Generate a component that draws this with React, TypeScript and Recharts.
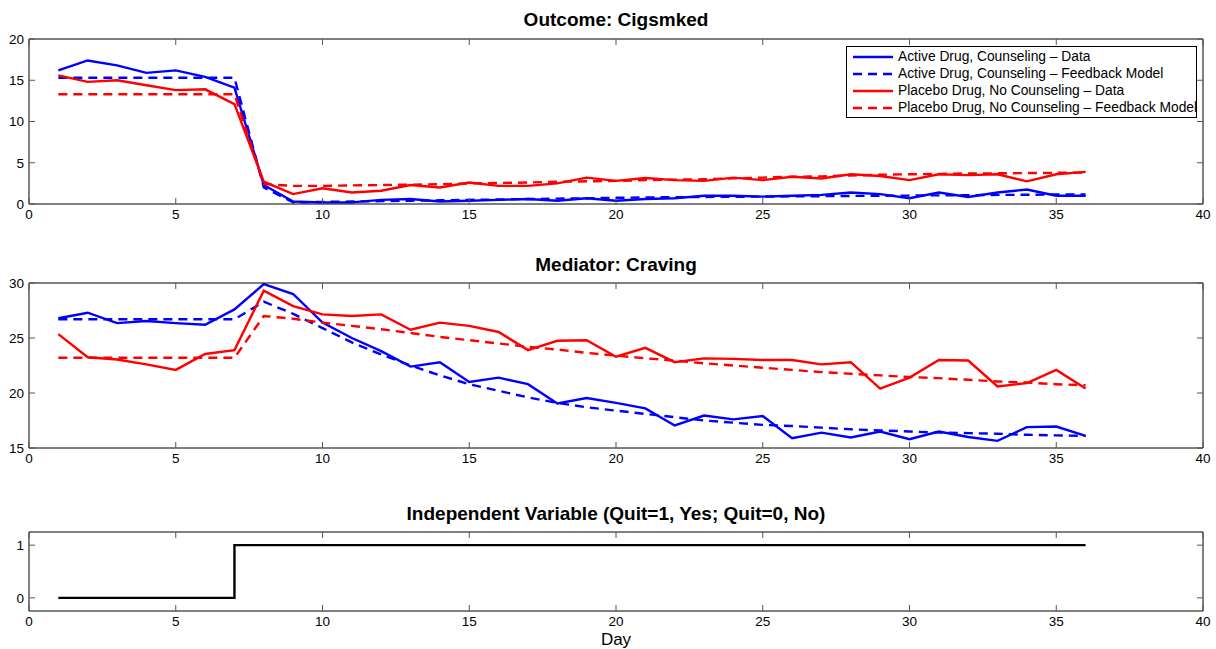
import React from 'react';
import { LineChart, Line, XAxis, YAxis, Legend } from 'recharts';

const FONT = '"Liberation Sans", Arial, Helvetica, sans-serif';
const BLUE = '#0000ff';
const RED = '#ff0000';

// day index 1..36
const days = Array.from({ length: 36 }, (_, i) => i + 1);
const xTicks = [0, 5, 10, 15, 20, 25, 30, 35, 40];

// Outcome: cigarettes smoked
const activeCig = [
  16.2, 17.4, 16.8, 15.9, 16.2, 15.4, 14.1, 2.3, 0.3, 0.2, 0.2, 0.5, 0.6, 0.3, 0.4, 0.5, 0.6, 0.4,
  0.7, 0.4, 0.6, 0.7, 1.0, 1.0, 0.9, 1.0, 1.1, 1.4, 1.2, 0.7, 1.4, 0.85, 1.4, 1.75, 1.0, 1.0,
];
const activeCigModel = [
  15.3, 15.3, 15.3, 15.3, 15.3, 15.3, 15.3, 2.0, 0.2, 0.25, 0.3, 0.35, 0.4, 0.45, 0.5, 0.55, 0.6, 0.65,
  0.7, 0.75, 0.8, 0.82, 0.85, 0.88, 0.9, 0.92, 0.95, 0.98, 1.0, 1.02, 1.05, 1.07, 1.1, 1.12, 1.15, 1.15,
];
const placeboCig = [
  15.6, 14.8, 15.0, 14.4, 13.8, 13.9, 12.1, 2.7, 1.2, 1.9, 1.4, 1.6, 2.3, 2.0, 2.6, 2.2, 2.2, 2.5,
  3.2, 2.8, 3.15, 2.9, 2.8, 3.2, 2.9, 3.3, 3.1, 3.6, 3.4, 2.9, 3.6, 3.5, 3.6, 2.75, 3.6, 3.9,
];
const placeboCigModel = [
  13.3, 13.3, 13.3, 13.3, 13.3, 13.3, 13.3, 2.4, 2.2, 2.2, 2.25, 2.3, 2.35, 2.4, 2.5, 2.55, 2.6, 2.7,
  2.75, 2.8, 2.9, 2.95, 3.0, 3.1, 3.2, 3.3, 3.35, 3.45, 3.55, 3.6, 3.65, 3.7, 3.72, 3.75, 3.78, 3.8,
];

// Mediator: craving
const activeCrave = [
  26.8, 27.3, 26.35, 26.55, 26.35, 26.2, 27.6, 29.9, 29.0, 26.4, 25.0, 23.8, 22.4, 22.8, 21.0, 21.4, 20.8, 19.05,
  19.55, 19.1, 18.6, 17.05, 17.95, 17.6, 17.9, 15.9, 16.4, 15.95, 16.5, 15.8, 16.5, 16.0, 15.65, 16.9, 16.95, 16.1,
];
const activeCraveModel = [
  26.7, 26.7, 26.7, 26.7, 26.7, 26.7, 26.7, 28.3, 27.2, 25.9, 24.6, 23.5, 22.5, 21.6, 20.8, 20.2, 19.6, 19.1,
  18.7, 18.4, 18.1, 17.8, 17.5, 17.3, 17.1, 17.0, 16.85, 16.7, 16.6, 16.5, 16.4, 16.35, 16.3, 16.2, 16.15, 16.1,
];
const placeboCrave = [
  25.35, 23.25, 23.05, 22.6, 22.1, 23.55, 23.9, 29.3, 27.9, 27.15, 27.0, 27.15, 25.75, 26.4, 26.1, 25.55, 23.9, 24.75,
  24.8, 23.3, 24.1, 22.8, 23.15, 23.1, 23.0, 23.0, 22.6, 22.8, 20.4, 21.4, 23.0, 22.95, 20.6, 20.9, 22.1, 20.4,
];
const placeboCraveModel = [
  23.2, 23.2, 23.2, 23.2, 23.2, 23.2, 23.2, 27.0, 26.75, 26.4, 26.1, 25.8, 25.45, 25.1, 24.8, 24.5, 24.2, 23.95,
  23.65, 23.4, 23.15, 22.95, 22.7, 22.5, 22.3, 22.1, 21.9, 21.75, 21.6, 21.45, 21.35, 21.2, 21.05, 20.95, 20.8, 20.7,
];

// Independent variable: quit (0 = no, 1 = yes)
const quit = [
  0, 0, 0, 0, 0, 0, 1, 1, 1, 1, 1, 1, 1, 1, 1, 1, 1, 1,
  1, 1, 1, 1, 1, 1, 1, 1, 1, 1, 1, 1, 1, 1, 1, 1, 1, 1,
];

const seriesNames = [
  'Active Drug, Counseling – Data',
  'Active Drug, Counseling – Feedback Model',
  'Placebo Drug, No Counseling – Data',
  'Placebo Drug, No Counseling – Feedback Model',
];

const cigRows = days.map((day, i) => ({
  day,
  a: activeCig[i],
  am: activeCigModel[i],
  p: placeboCig[i],
  pm: placeboCigModel[i],
}));
const craveRows = days.map((day, i) => ({
  day,
  a: activeCrave[i],
  am: activeCraveModel[i],
  p: placeboCrave[i],
  pm: placeboCraveModel[i],
}));
const quitRows = days.map((day, i) => ({ day, q: quit[i] }));

const W = 1216;
const FS = 13.5;
const TICK_COLOR = '#555';
const TL = 6; // inward tick length
const XM = 5; // x label margin
const YM = 5; // y label margin
const DASH = '9 6';
const LW = 2.4;

// matlab-ish inward ticks: draw the tick line ourselves, label outside
const bottomTick = (p: any) => (
  <g>
    <line x1={p.x} x2={p.x} y1={p.y - XM} y2={p.y - XM - TL} stroke={TICK_COLOR} />
    <text x={p.x} y={p.y} dy="0.71em" textAnchor="middle" fontSize={FS} fontFamily={FONT} fill="#000">
      {p.payload.value}
    </text>
  </g>
);
const topTick = (p: any) => (
  <line x1={p.x} x2={p.x} y1={p.y} y2={p.y + TL} stroke={TICK_COLOR} />
);
const leftTick = (p: any) => (
  <g>
    <line x1={p.x + YM} x2={p.x + YM + TL} y1={p.y} y2={p.y} stroke={TICK_COLOR} />
    <text x={p.x} y={p.y} dy="0.355em" textAnchor="end" fontSize={FS} fontFamily={FONT} fill="#000">
      {p.payload.value}
    </text>
  </g>
);
const rightTick = (p: any) => (
  <line x1={p.x} x2={p.x - TL} y1={p.y} y2={p.y} stroke={TICK_COLOR} />
);

function frame(yDomain: number[], yTicks: number[]) {
  return [
    <XAxis
      key="xb"
      xAxisId="b"
      type="number"
      dataKey="day"
      domain={[0, 40]}
      ticks={xTicks}
      interval={0}
      orientation="bottom"
      height={26}
      tickSize={0}
      tickMargin={XM}
      tickLine={false}
      tick={bottomTick}
      stroke="#000"
    />,
    <XAxis
      key="xt"
      xAxisId="t"
      type="number"
      dataKey="day"
      domain={[0, 40]}
      ticks={xTicks}
      interval={0}
      orientation="top"
      height={1}
      tickSize={0}
      tickMargin={0}
      tickLine={false}
      tick={topTick}
      stroke="#000"
    />,
    <YAxis
      key="yl"
      yAxisId="l"
      type="number"
      domain={yDomain}
      ticks={yTicks}
      interval={0}
      width={29}
      tickSize={0}
      tickMargin={YM}
      tickLine={false}
      tick={leftTick}
      stroke="#000"
      allowDataOverflow
    />,
    <YAxis
      key="yr"
      yAxisId="r"
      orientation="right"
      type="number"
      domain={yDomain}
      ticks={yTicks}
      interval={0}
      width={13}
      tickSize={0}
      tickMargin={0}
      tickLine={false}
      tick={rightTick}
      stroke="#000"
      allowDataOverflow
    />,
  ];
}

function fourLines() {
  return [
    <Line key="a" xAxisId="b" yAxisId="l" type="linear" dataKey="a" name={seriesNames[0]} stroke={BLUE} strokeWidth={LW} dot={false} isAnimationActive={false} />,
    <Line key="am" xAxisId="b" yAxisId="l" type="linear" dataKey="am" name={seriesNames[1]} stroke={BLUE} strokeWidth={LW} strokeDasharray={DASH} dot={false} isAnimationActive={false} />,
    <Line key="p" xAxisId="b" yAxisId="l" type="linear" dataKey="p" name={seriesNames[2]} stroke={RED} strokeWidth={LW} dot={false} isAnimationActive={false} />,
    <Line key="pm" xAxisId="b" yAxisId="l" type="linear" dataKey="pm" name={seriesNames[3]} stroke={RED} strokeWidth={LW} strokeDasharray={DASH} dot={false} isAnimationActive={false} />,
  ];
}

const renderLegend = (props: any) => (
  <div
    style={{
      border: '1.5px solid #000',
      background: '#fff',
      padding: '1px 4px 1px 6px',
      fontFamily: FONT,
      fontSize: 13.8,
      color: '#000',
    }}
  >
    {(props.payload || []).map((e: any) => (
      <div key={e.value} style={{ display: 'flex', alignItems: 'center', height: 17 }}>
        <svg width={40} height={4} style={{ flex: 'none' }}>
          <line
            x1={0}
            y1={2}
            x2={40}
            y2={2}
            stroke={e.color}
            strokeWidth={LW}
            strokeDasharray={e.payload?.strokeDasharray}
          />
        </svg>
        <span style={{ marginLeft: 5, whiteSpace: 'nowrap' }}>{e.value}</span>
      </div>
    ))}
  </div>
);

const titleStyle = (top: number): React.CSSProperties => ({
  position: 'absolute',
  top,
  left: 29,
  width: 1174,
  textAlign: 'center',
  fontFamily: FONT,
  fontWeight: 'bold',
  fontSize: 19,
  lineHeight: '22px',
  color: '#000',
});

export default function App() {
  return (
    <div style={{ position: 'absolute', left: 0, top: 0, width: W, height: 649, background: '#fff' }}>
      <div style={titleStyle(9)}>Outcome: Cigsmked</div>
      <div style={{ position: 'absolute', left: 0, top: 0 }}>
        <LineChart width={W} height={230} data={cigRows} margin={{ top: 38, right: 0, bottom: 0, left: 0 }}>
          {frame([0, 20], [0, 5, 10, 15, 20])}
          {fourLines()}
          <Legend
            layout="vertical"
            align="center"
            verticalAlign="middle"
            content={renderLegend}
            wrapperStyle={{ left: 846, top: 46, width: 351 }}
          />
        </LineChart>
      </div>

      <div style={titleStyle(254)}>Mediator: Craving</div>
      <div style={{ position: 'absolute', left: 0, top: 245 }}>
        <LineChart width={W} height={229} data={craveRows} margin={{ top: 37, right: 0, bottom: 0, left: 0 }}>
          {frame([15, 30], [15, 20, 25, 30])}
          {fourLines()}
        </LineChart>
      </div>

      <div style={titleStyle(503)}>Independent Variable (Quit=1, Yes; Quit=0, No)</div>
      <div style={{ position: 'absolute', left: 0, top: 495 }}>
        <LineChart width={W} height={142} data={quitRows} margin={{ top: 36, right: 0, bottom: 0, left: 0 }}>
          {frame([-0.25, 1.25], [0, 1])}
          <Line
            xAxisId="b"
            yAxisId="l"
            type="stepAfter"
            dataKey="q"
            name="Quit"
            stroke="#000"
            strokeWidth={LW}
            dot={false}
            isAnimationActive={false}
          />
        </LineChart>
      </div>
      <div
        style={{
          position: 'absolute',
          top: 630,
          left: 29,
          width: 1174,
          textAlign: 'center',
          fontFamily: FONT,
          fontSize: 17,
          lineHeight: '20px',
          color: '#000',
        }}
      >
        Day
      </div>
    </div>
  );
}
